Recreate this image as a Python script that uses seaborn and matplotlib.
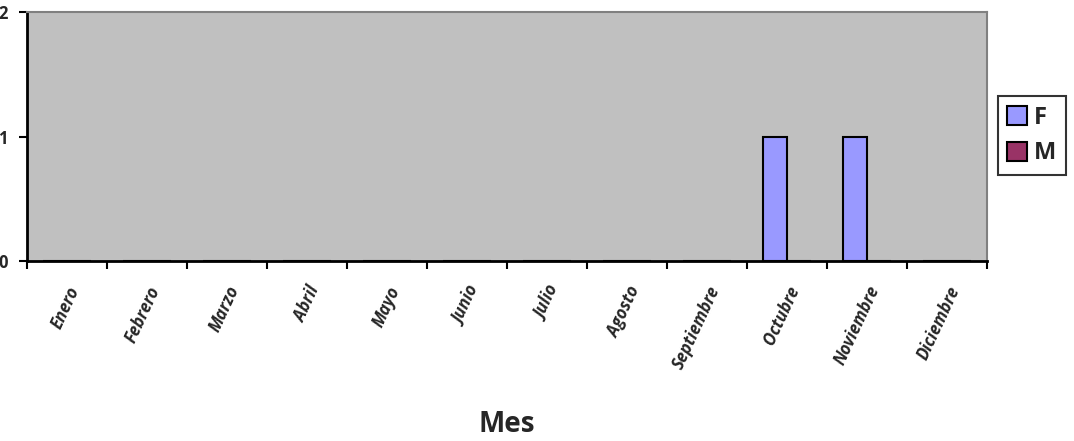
import matplotlib
matplotlib.use("Agg")
import matplotlib.pyplot as plt
import seaborn as sns
import pandas as pd

meses = ["Enero", "Febrero", "Marzo", "Abril", "Mayo", "Junio", "Julio",
         "Agosto", "Septiembre", "Octubre", "Noviembre", "Diciembre"]
serie_f = [0, 0, 0, 0, 0, 0, 0, 0, 0, 1, 1, 0]
serie_m = [0, 0, 0, 0, 0, 0, 0, 0, 0, 0, 0, 0]
series = ["F", "M"]
colores = {"F": "#9999FF", "M": "#993366"}

df = pd.DataFrame({
    "Mes": meses * 2,
    "Valor": serie_f + serie_m,
    "Sexo": ["F"] * len(meses) + ["M"] * len(meses),
})

sns.set_theme(style="white")
plt.rcParams["font.family"] = ["Open Sans", "DejaVu Sans"]

fig = plt.figure(figsize=(10.74, 4.41), dpi=100)
ax = fig.add_axes([27 / 1074, 180 / 441, 960 / 1074, 249 / 441])
ax.set_facecolor("#C0C0C0")

sns.barplot(data=df, x="Mes", y="Valor", hue="Sexo", order=meses,
            hue_order=series, palette=colores, saturation=1, width=0.6,
            gap=0, edgecolor="black", linewidth=1.5, ax=ax, legend=True)

ax.set_xlim(-0.5, len(meses) - 0.5)
ax.set_ylim(0, 2)

# category boundaries as major ticks, month names as minor labels
ax.set_xticks([i - 0.5 for i in range(len(meses) + 1)])
ax.set_xticklabels([])
ax.set_xticks(range(len(meses)), minor=True)
ax.set_xticklabels(meses, minor=True, rotation=65, ha="right",
                   va="top", rotation_mode="anchor",
                   fontsize=12, fontweight="bold", fontstyle="italic")
ax.tick_params(axis="x", which="major", direction="out", length=6,
               width=1.5, color="black", bottom=True)
ax.tick_params(axis="x", which="minor", length=0, pad=16)

ax.set_yticks([0, 1, 2])
ax.set_yticklabels(["0", "1", "2"], fontsize=12, fontweight="bold")
ax.tick_params(axis="y", direction="out", length=6, width=1.5,
               color="black", left=True, pad=8)

for side in ("left", "bottom"):
    ax.spines[side].set_color("black")
    ax.spines[side].set_linewidth(2)
for side in ("top", "right"):
    ax.spines[side].set_color("#808080")
    ax.spines[side].set_linewidth(1.5)

ax.set_ylabel("")
ax.set_xlabel("")
fig.text((27 + 480) / 1074, 16 / 441, "Mes", ha="center", va="center",
         fontsize=20, fontweight="bold")

handles, labels = ax.get_legend_handles_labels()
leg = ax.legend(handles, labels, loc="center left",
                bbox_to_anchor=(1.011, 0.504), frameon=True, fancybox=False,
                edgecolor="black", prop={"weight": "bold", "size": 17},
                handlelength=0.85, handleheight=0.85, handletextpad=0.3,
                borderpad=0.4, labelspacing=0.5, borderaxespad=0)
leg.get_frame().set_linewidth(1.5)
for p in leg.get_patches():
    p.set_edgecolor("black")
    p.set_linewidth(1.5)

fig.savefig("out.png", dpi=100)
